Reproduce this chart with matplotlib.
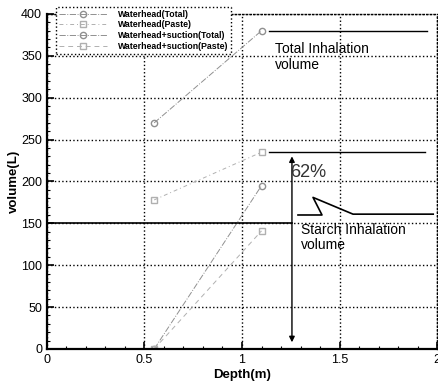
import matplotlib
matplotlib.use("Agg")
import matplotlib.pyplot as plt
from matplotlib.ticker import MultipleLocator

plt.rcParams['font.family'] = ['Liberation Sans', 'DejaVu Sans']

depth = [0.55, 1.1]
wh_total = [270, 380]
wh_paste = [178, 235]
whs_total = [0, 195]
whs_paste = [0, 141]
labels = ["Waterhead(Total)", "Waterhead(Paste)",
          "Waterhead+suction(Total)", "Waterhead+suction(Paste)"]

fig = plt.figure(figsize=(4.38, 3.82), dpi=100)
ax = fig.add_axes([0.107, 0.0864, 0.891, 0.877])

ax.plot(depth, wh_total, color='#909090', ls='-.', lw=0.7, marker='o', ms=4.5,
        mfc='none', mec='#909090', label=labels[0])
ax.plot(depth, wh_paste, color='#b0b0b0', ls=(0, (4, 3, 1, 3)), lw=0.7, marker='s', ms=4.5,
        mfc='none', mec='#b0b0b0', label=labels[1])
ax.plot(depth, whs_total, color='#909090', ls='-.', lw=0.7, marker='o', ms=4.5,
        mfc='none', mec='#909090', label=labels[2])
ax.plot(depth, whs_paste, color='#b0b0b0', ls=(0, (5, 4)), lw=0.7, marker='s', ms=4.5,
        mfc='none', mec='#b0b0b0', label=labels[3])

ax.set_xlim(0, 2)
ax.set_ylim(0, 400)
ax.xaxis.set_major_locator(MultipleLocator(0.5))
ax.xaxis.set_minor_locator(MultipleLocator(0.1))
ax.yaxis.set_major_locator(MultipleLocator(50))
ax.yaxis.set_minor_locator(MultipleLocator(10))
ax.set_xticks([0, 0.5, 1, 1.5, 2])
ax.set_xticklabels(['0', '0.5', '1', '1.5', '2'])
ax.tick_params(which='both', direction='in', labelsize=9)
ax.tick_params(which='major', length=5, width=1.2)
ax.tick_params(which='minor', length=2.5, width=0.8)
ax.grid(True, which='major', ls=':', color='black', lw=1.0)

ax.spines['left'].set_linewidth(1.6)
ax.spines['bottom'].set_linewidth(1.6)
for s in ['top', 'right']:
    ax.spines[s].set_linestyle(':')
    ax.spines[s].set_linewidth(1.0)

ax.set_xlabel('Depth(m)', fontsize=9.5, fontweight='bold', labelpad=2)
ax.set_ylabel('volume(L)', fontsize=9.5, fontweight='bold', labelpad=1)

# annotations
ax.plot([1.14, 1.95], [380, 380], color='black', lw=1.0)
ax.plot([1.14, 1.94], [235, 235], color='black', lw=1.0)
ax.plot([0, 1.256], [150, 150], color='black', lw=1.2)
ax.annotate('', xy=(1.256, 8), xytext=(1.256, 230),
            arrowprops=dict(arrowstyle='<|-|>', color='black', lw=1.0,
                            mutation_scale=8, shrinkA=0, shrinkB=0))
ax.plot([1.287, 1.41, 1.364, 1.569, 1.98], [160, 160, 181, 161, 161],
        color='black', lw=1.2)
ax.text(1.17, 366, 'Total Inhalation\nvolume', fontsize=10, va='top', ha='left',
        linespacing=1.1)
ax.text(1.30, 150, 'Starch Inhalation\nvolume', fontsize=10, va='top', ha='left',
        linespacing=1.1)
ax.text(1.34, 211, '62%', fontsize=13, va='center', ha='center', color='#333333')

leg = ax.legend(loc='upper left', bbox_to_anchor=(0.012, 1.035),
                prop={'weight': 'bold', 'size': 6.3}, handlelength=5.5,
                borderpad=0.35, labelspacing=0.2, handletextpad=1.2,
                fancybox=False, framealpha=1, edgecolor='black')
leg.get_frame().set_linestyle(':')
leg.get_frame().set_linewidth(1.0)

fig.savefig('out.png', dpi=100)
